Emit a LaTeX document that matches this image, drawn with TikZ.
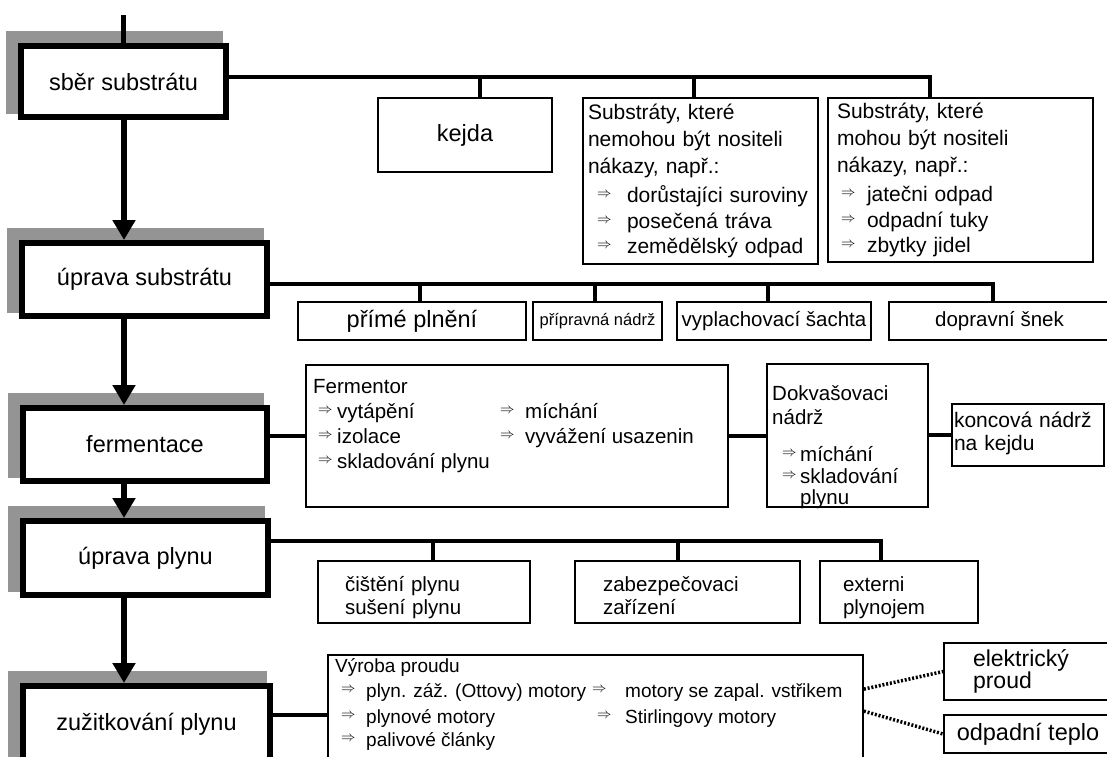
\documentclass[tikz,border=0pt]{standalone}
\usepackage{fontspec}
\setmainfont{Liberation Sans}
\usetikzlibrary{arrows.meta,backgrounds,calc}
\newcommand\fmain{\fontsize{23.5}{26}\selectfont}
\newcommand\fsub{\fontsize{21}{26.7}\selectfont}
\newcommand\ffour{\fontsize{20.5}{23}\selectfont}
\newcommand\fsm{\fontsize{19}{25.5}\selectfont}
\newcommand\myarr{\raisebox{5pt}{\fontsize{14}{14}\selectfont$\Rightarrow$}}
\newcommand\itm[2]{\hspace*{#1}\makebox[#2][l]{\myarr}}
\newcommand\tall[1]{\rule{0pt}{#1}}
\begin{document}
\begin{tikzpicture}[x=1pt,y=-1pt,
  mainbox/.style={draw, line width=6pt, fill=white, inner sep=0pt, font=\fmain},
  subbox/.style={draw, line width=1.8pt, fill=white, inner sep=0pt, font=\fsub},
  conn/.style={line width=3.5pt},
  flow/.style={line width=5.5pt, -{Triangle[width=22pt,length=20pt]}},
  dotc/.style={line width=3.5pt, dash pattern=on 2pt off 1.8pt},
  txt/.style={inner sep=0pt, anchor=north west, align=left}]
\useasboundingbox (0,0) rectangle (1107,756);
\clip (0,0) rectangle (1107,756);

% main boxes
\node[mainbox, minimum width=205pt, minimum height=71pt] (sber) at (123.5,81.5) {sběr substrátu};
\node[mainbox, minimum width=245pt, minimum height=73pt] (upsub) at (144.5,279.5) {úprava substrátu};
\node[mainbox, minimum width=244pt, minimum height=73pt] (ferm) at (145,444.5) {fermentace};
\node[mainbox, minimum width=245pt, minimum height=74pt] (upplyn) at (145.5,558) {úprava plynu};
\node[mainbox, minimum width=247pt, minimum height=76pt] (zuzit) at (146.5,724) {zužitkování plynu};

\begin{scope}[on background layer]
\fill[white] (0,0) rectangle (1107,756);
\foreach \n in {sber,upsub,ferm,upplyn,zuzit}
  \fill[black!42] ($(\n.north west)+(-12,-12)$) rectangle ($(\n.south east)+(-6,-6)$);
\end{scope}

% vertical flow
\coordinate (top) at (123,15);
\coordinate (ax) at (124,0);
\draw[line width=5pt] (top) -- (top |- sber.north);
\draw[flow] (sber.south -| ax) -- (upsub.north -| ax);
\draw[flow] (upsub.south -| ax) -- (ferm.north -| ax);
\draw[flow] (ferm.south -| ax) -- (upplyn.north -| ax);
\draw[flow] (upplyn.south -| ax) -- (zuzit.north -| ax);

% row 1
\node[subbox, font=\fmain, minimum width=174pt, minimum height=74pt] (kejda) at (465,135) {kejda};
\node[subbox, text width=225pt, inner xsep=5pt, minimum height=166pt, align=left] (nemohou) at (700.5,181)
 {Substráty, které\\ nemohou být nositeli\\ nákazy, např.:\\[3pt]
  \itm{9pt}{30pt}dorůstajíci suroviny\\[-1pt] \itm{9pt}{30pt}posečená tráva\\[-2pt] \itm{9pt}{30pt}zemědělský odpad};
\node[subbox, text width=247pt, inner xsep=9pt, minimum height=164pt, align=left] (mohou) at (960.5,180)
 {Substráty, které\\ mohou být nositeli\\ nákazy, např.:\\[3pt]
  \itm{4pt}{26pt}jatečni odpad\\[-1pt] \itm{4pt}{26pt}odpadní tuky\\[-2pt] \itm{4pt}{26pt}zbytky jidel};
\coordinate (j1) at (930,77);
\coordinate (d1) at (480,77);
\coordinate (d2) at (694,77);
\draw[conn] (sber.east |- j1) -- (j1) -- (j1 |- mohou.north);
\draw[conn] (d1) -- (d1 |- kejda.north);
\draw[conn] (d2) -- (d2 |- nemohou.north);

% row 2
\node[subbox, font=\fmain, minimum width=228pt, minimum height=38pt] (prime) at (412,321) {přímé plnění};
\node[subbox, font=\fontsize{16.5}{18}\selectfont, minimum width=129pt, minimum height=38pt] (priprav) at (597.5,321) {přípravná nádrž};
\node[subbox, font=\fontsize{20.5}{22}\selectfont, minimum width=194pt, minimum height=38pt] (vyplach) at (774,321) {vyplachovací šachta};
\node[subbox, font=\fontsize{20.5}{22}\selectfont, minimum width=221pt, minimum height=38pt] (doprav) at (999.5,321) {dopravní šnek};
\coordinate (j2) at (993,284);
\coordinate (d3) at (420,284);
\coordinate (d4) at (595,284);
\coordinate (d5) at (768,284);
\draw[conn] (upsub.east |- j2) -- (j2) -- (j2 |- doprav.north);
\draw[conn] (d3) -- (d3 |- prime.north);
\draw[conn] (d4) -- (d4 |- priprav.north);
\draw[conn] (d5) -- (d5 |- vyplach.north);

% row 3
\node[subbox, minimum width=422pt, minimum height=142pt] (fermentor) at (517,436) {};
\node[txt, font=\fontsize{20.5}{25}\selectfont] (fermtxt) at (313,379)
 {Fermentor\\
  \itm{5pt}{19pt}\makebox[163pt][l]{vytápění}\makebox[25pt][l]{\myarr}míchání\\
  \itm{5pt}{19pt}\makebox[163pt][l]{izolace}\makebox[25pt][l]{\myarr}vyvážení usazenin\\
  \itm{5pt}{19pt}skladování plynu};
\node[subbox, minimum width=161pt, minimum height=143pt] (dokvas) at (847.5,435.5) {};
\node[txt, font=\fontsize{20.5}{24}\selectfont] (doktxt) at (772,385)
 {Dokvašovaci\\ nádrž\\[13pt]
  \itm{10pt}{18pt}míchání\\[-2pt]
  \itm{10pt}{18pt}skladování\\[-3pt]
  \hspace*{28pt}plynu};
\node[subbox, font=\fontsize{21}{23}\selectfont, text width=148pt, inner xsep=2pt, minimum height=62pt, align=left] (koncova) at (1028,435) {\tall{10pt}koncová nádrž\\ na kejdu\rule[-8pt]{0pt}{8pt}};
\draw[conn] (ferm.east |- fermentor.west) -- (fermentor.west);
\draw[conn] (fermentor.east) -- (fermentor.east -| dokvas.west);
\draw[conn] (dokvas.east |- koncova.west) -- (koncova.west);

% row 4
\node[subbox, font=\ffour, text width=158pt, inner xsep=27pt, minimum height=62pt, align=left] (cisteni) at (424,592) {\tall{28pt}čištění plynu\\ sušení plynu\rule[-6pt]{0pt}{6pt}};
\node[subbox, font=\ffour, text width=169pt, inner xsep=28pt, minimum height=62pt, align=left] (zabezp) at (687.5,592) {\tall{28pt}zabezpečovaci\\ zařízení\rule[-6pt]{0pt}{6pt}};
\node[subbox, font=\ffour, text width=112pt, inner xsep=23pt, minimum height=62pt, align=left] (extern) at (899,592) {\tall{28pt}externi\\ plynojem\rule[-6pt]{0pt}{6pt}};
\coordinate (j4) at (881,541);
\coordinate (d6) at (433,541);
\coordinate (d7) at (678,541);
\draw[conn] (upplyn.east |- j4) -- (j4) -- (j4 |- extern.north);
\draw[conn] (d6) -- (d6 |- cisteni.north);
\draw[conn] (d7) -- (d7 |- zabezp.north);

% row 5
\node[subbox, minimum width=535pt, minimum height=120pt] (vyroba) at (595.5,715) {};
\node[txt, font=\fsm] (vyrtxt) at (335,658)
 {Výroba proudu\\
  \itm{6pt}{25pt}\makebox[226pt][l]{plyn. záž. (Ottovy) motory}\makebox[33pt][l]{\myarr}motory se zapal. vstřikem\\
  \itm{6pt}{25pt}\makebox[231pt][l]{plynové motory}\makebox[28pt][l]{\myarr}Stirlingovy motory\\[-2pt]
  \itm{6pt}{25pt}palivové články};
\draw[conn] (zuzit.east |- vyroba.west) -- (vyroba.west);
\node[subbox, font=\fontsize{23}{21}\selectfont, text width=110pt, inner xsep=29pt, minimum height=57pt, align=left] (elektr) at (1028,671.5) {elektrický\\ proud};
\node[subbox, font=\fontsize{23.5}{26}\selectfont, minimum width=168pt, minimum height=38pt] (odpad) at (1028,734) {odpadní teplo};
\draw[dotc] ($(vyroba.north east)+(0,35)$) -- (elektr.west);
\draw[dotc] ($(vyroba.north east)+(0,57)$) -- (odpad.west);
\end{tikzpicture}
\end{document}
